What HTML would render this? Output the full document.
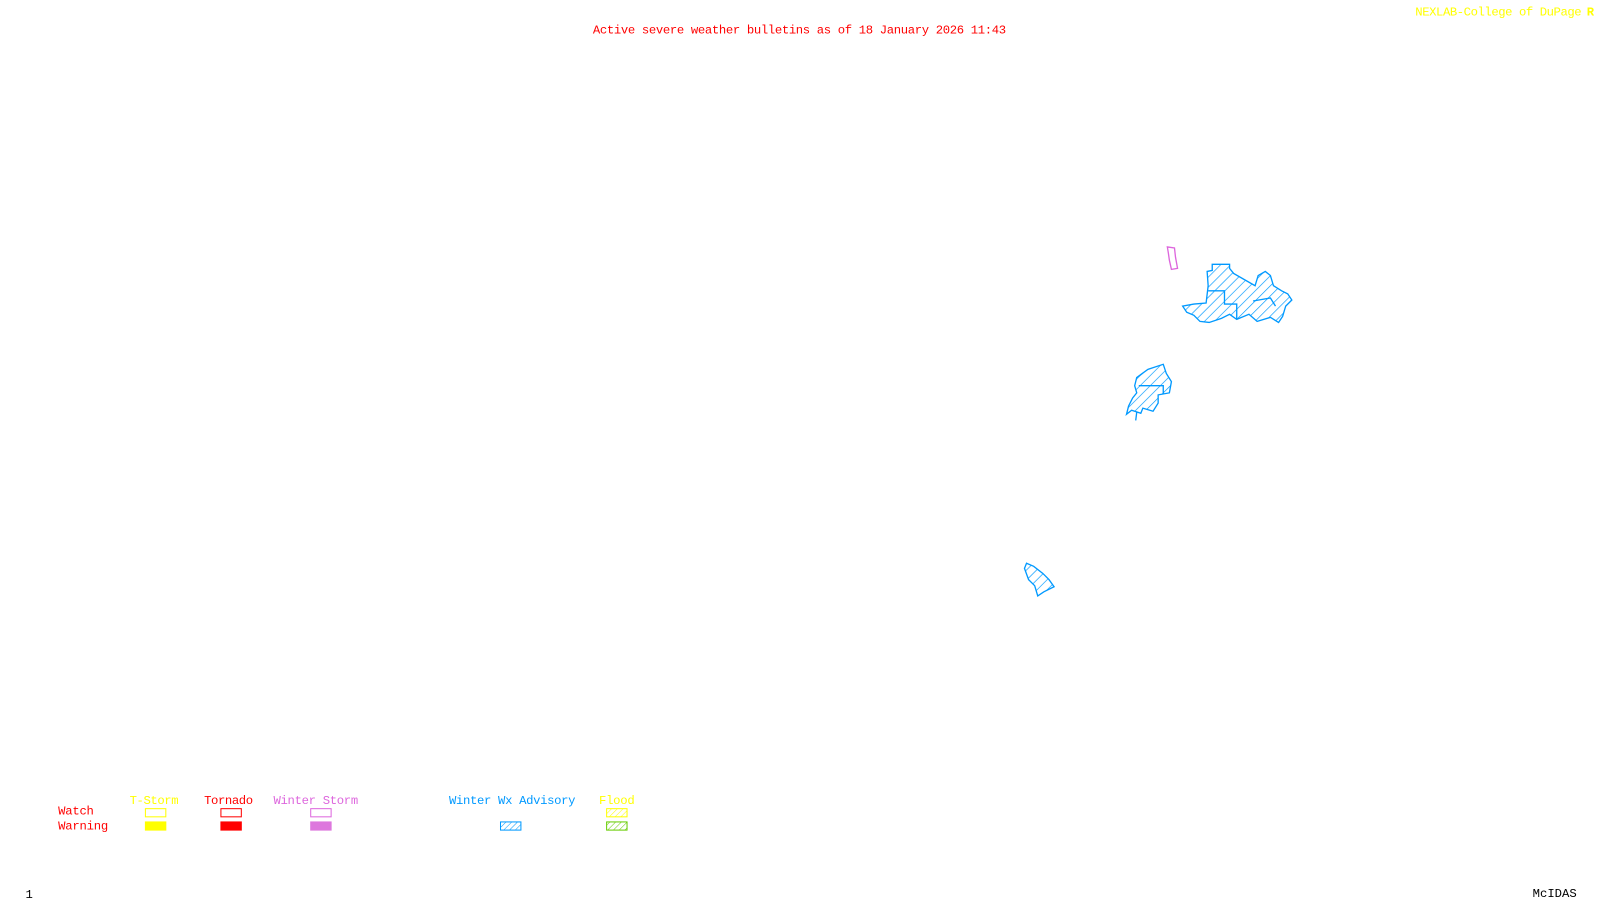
<!DOCTYPE html>
<html><head><meta charset="utf-8"><style>
html,body{margin:0;padding:0;background:#fff;width:1600px;height:900px;overflow:hidden}
svg{display:block}
text{font-family:"Liberation Mono",monospace;font-size:12px}
</style></head><body>
<svg width="1600" height="900" viewBox="0 0 1600 900">
<defs>
<pattern id="hb" width="7" height="7" patternUnits="userSpaceOnUse" patternTransform="rotate(45)"><line x1="0" y1="0" x2="0" y2="7" stroke="#0099ff" stroke-width="1.3"/></pattern>
<pattern id="hy" width="4" height="4" patternUnits="userSpaceOnUse" patternTransform="rotate(45)"><line x1="0" y1="0" x2="0" y2="4" stroke="#ffff00" stroke-width="1"/></pattern>
<pattern id="hg" width="4" height="4" patternUnits="userSpaceOnUse" patternTransform="rotate(45)"><line x1="0" y1="0" x2="0" y2="4" stroke="#66cc00" stroke-width="1"/></pattern>
<pattern id="hb2" width="4" height="4" patternUnits="userSpaceOnUse" patternTransform="rotate(45)"><line x1="0" y1="0" x2="0" y2="4" stroke="#0099ff" stroke-width="1"/></pattern>
</defs>
<g transform="scale(1.0204)">
<text x="581" y="33" fill="#ff0000" textLength="405">Active severe weather bulletins as of 18 January 2026 11:43</text>
<text x="1387" y="15" fill="#ffff00" textLength="163">NEXLAB-College of DuPage</text>
<text x="1555" y="15" fill="#ffff00" font-weight="bold">R</text>

<polygon points="1144,242 1151,243 1152,252 1154,263 1148,264 1146,255 1145,248" fill="none" stroke="#dd66dd" stroke-width="1.3"/>

<g fill="url(#hb)" stroke="#0099ff" stroke-width="1.3">
<polygon points="1183,266 1188,265 1188,259 1205,259 1205,263 1209,268 1230,280 1233,270 1240,266 1245,270 1248,280 1256,285 1262,288 1266,294 1260,300 1257,310 1253,316 1245,311 1232,315 1224,308 1212,313 1205,308 1197,312 1185,316 1176,315 1170,309 1163,306 1159,300 1170,298 1182,297 1184,280"/>
<polyline points="1184,285 1200,285 1200,298 1212,298 1212,313" fill="none"/>
<polyline points="1228,295 1245,292 1250,300" fill="none"/>
</g>
<g fill="url(#hb)" stroke="#0099ff" stroke-width="1.3">
<polygon points="1114,370 1125,362 1140,357 1143,366 1148,374 1146,385 1135,387 1135,395 1130,403 1120,400 1118,405 1109,402 1104,406 1106,398 1110,390 1114,385 1112,378"/>
<polyline points="1116,378 1140,378 1140,386" fill="none"/>
<line x1="1114" y1="404" x2="1113" y2="412"/>
</g>
<g fill="url(#hb)" stroke="#0099ff" stroke-width="1.3">
<polygon points="1006,552 1013,555 1022,562 1028,568 1033,575 1023,580 1017,584 1014,574 1008,568 1004,557"/>
</g>

<text x="127" y="788" fill="#ffff00" textLength="48">T-Storm</text>
<text x="200" y="788" fill="#ff0000" textLength="48">Tornado</text>
<text x="268" y="788" fill="#dd66dd" textLength="83">Winter Storm</text>
<text x="440" y="788" fill="#0099ff" textLength="124">Winter Wx Advisory</text>
<text x="587" y="788" fill="#ffff00" textLength="35">Flood</text>
<text x="57" y="798" fill="#ff0000" textLength="35">Watch</text>
<text x="57" y="813" fill="#ff0000" textLength="49">Warning</text>
<rect x="142.5" y="792.5" width="20" height="8" fill="none" stroke="#ffff00"/>
<rect x="216.5" y="792.5" width="20" height="8" fill="none" stroke="#ff0000"/>
<rect x="304.5" y="792.5" width="20" height="8" fill="none" stroke="#dd66dd"/>
<rect x="594.5" y="792.5" width="20" height="8" fill="url(#hy)" stroke="#ffff00"/>
<rect x="142" y="805" width="21" height="9" fill="#ffff00"/>
<rect x="216" y="805" width="21" height="9" fill="#ff0000"/>
<rect x="304" y="805" width="21" height="9" fill="#dd77dd"/>
<rect x="490.5" y="805.5" width="20" height="8" fill="url(#hb2)" stroke="#0099ff"/>
<rect x="594.5" y="805.5" width="20" height="8" fill="url(#hg)" stroke="#66cc00"/>

<text x="25" y="880" fill="#000" font-size="11">1</text>
<text x="1502" y="879" fill="#000" font-size="11">McIDAS</text>
</g>
</svg>
</body></html>
